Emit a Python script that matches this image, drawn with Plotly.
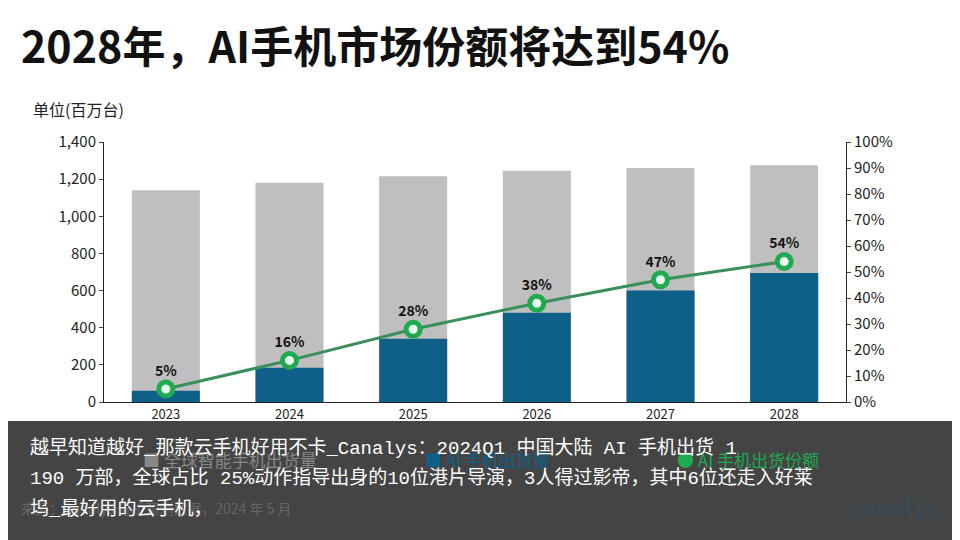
import plotly.graph_objects as go

years = ["2023", "2024", "2025", "2026", "2027", "2028"]
total_shipments = [1140, 1180, 1215, 1245, 1260, 1275]
ai_shipments = [60, 185, 340, 480, 600, 695]
ai_share = [5, 16, 28, 38, 47, 54]
share_labels = ["5%", "16%", "28%", "38%", "47%", "54%"]

font = "Noto Sans CJK SC"

fig = go.Figure()
fig.add_trace(go.Bar(x=years, y=total_shipments, name="全球智能手机出货量",
                     marker=dict(color="#bfbfbf", line_width=0), width=0.55))
fig.add_trace(go.Bar(x=years, y=ai_shipments, name="AI 手机出货量",
                     marker=dict(color="#0e6089", line_width=0), width=0.55))
fig.add_trace(go.Scatter(x=years, y=ai_share, name="AI 手机出货份额", yaxis="y2",
                         mode="lines+markers+text", text=share_labels,
                         textposition="top center", cliponaxis=False,
                         textfont=dict(size=14, color="#111", family=font, weight="bold"),
                         line=dict(color="#3a8f5a", width=3),
                         marker=dict(size=14, color="#e8fff0",
                                     line=dict(color="#1faa50", width=5))))

fig.update_layout(
    width=960, height=540, barmode="overlay", showlegend=False,
    paper_bgcolor="white", plot_bgcolor="white",
    margin=dict(l=96, r=122, t=134, b=146),
    font=dict(family=font, size=14, color="#222"),
    xaxis=dict(showline=True, linecolor="#222", ticks="", tickfont=dict(size=13)),
    yaxis=dict(range=[0, 1400], dtick=200, tickformat=",", showgrid=False,
               showline=True, linecolor="#222", ticks="outside", ticklen=4,
               tickfont=dict(size=15)),
    yaxis2=dict(range=[0, 100], dtick=10, ticksuffix="%", overlaying="y", side="right",
                showgrid=False, showline=True, linecolor="#222", ticks="outside",
                ticklen=4, tickfont=dict(size=15)),
)

annotations = [
    dict(text="<b>2028年，AI手机市场份额将达到54%</b>", x=-0.115, y=1.505, xanchor="left",
         yanchor="top", font=dict(size=43, color="#111")),
    dict(text="单位(百万台)", x=-0.098, y=1.127, xanchor="left", yanchor="middle",
         font=dict(size=16, color="#222")),
    dict(text="■ 全球智能手机出货量", x=0.05, y=-0.223, xanchor="left", yanchor="middle",
         font=dict(size=17, color="#888")),
    dict(text="■ AI 手机出货量", x=0.43, y=-0.223, xanchor="left", yanchor="middle",
         font=dict(size=17, color="#0e6089")),
    dict(text="● AI 手机出货份额", x=0.77, y=-0.223, xanchor="left", yanchor="middle",
         font=dict(size=17, color="#1faa50")),
    dict(text="来源：Canalys 分析预测数据，2024 年 5 月", x=-0.115, y=-0.408, xanchor="left",
         yanchor="middle", font=dict(size=14, color="#666")),
    dict(text="<b>canalys</b>", x=1.128, y=-0.40, xanchor="right", yanchor="middle",
         font=dict(size=24, color="#3a4a55")),
]
for a in annotations:
    fig.add_annotation(xref="paper", yref="paper", showarrow=False, **a)

# dark caption overlay at bottom
fig.add_shape(type="rect", xref="paper", yref="paper", x0=-0.3, x1=1.4, y0=-0.7, y1=-0.073,
              fillcolor="rgba(35,35,35,0.85)", line_width=0, layer="above")
caption = ["越早知道越好_那款云手机好用不卡_Canalys：2024Q1 中国大陆 AI 手机出货 1",
           "190 万部，全球占比 25%动作指导出身的10位港片导演，3人得过影帝，其中6位还走入好莱",
           "坞_最好用的云手机，"]
for i, line in enumerate(caption):
    fig.add_annotation(xref="paper", yref="paper", x=-0.102, y=-0.18 - i * 0.116,
                       xanchor="left", yanchor="middle", showarrow=False, text=line,
                       font=dict(size=19, color="white",
                                 family="Liberation Mono, Noto Sans CJK SC"))

fig.write_html("out.html")
